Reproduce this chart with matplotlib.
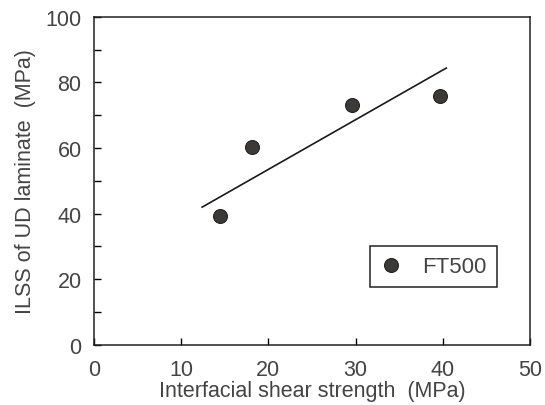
import numpy as np
import matplotlib.pyplot as plt
from matplotlib.ticker import MultipleLocator

# measured points (FT500)
ifss = [14.5, 18.1, 29.6, 39.7]
ilss = [39.4, 60.3, 73.0, 76.0]

# fitted line end points
fit_x = [12.4, 40.4]
fit_y = [42.0, 84.4]

xticks = [0, 10, 20, 30, 40, 50]
yticks = [0, 20, 40, 60, 80, 100]

txt = '#444444'
plt.rcParams['font.family'] = ['Liberation Sans', 'DejaVu Sans']

fig = plt.figure(figsize=(5.45, 4.06), dpi=100)
ax = fig.add_axes([0.1725, 0.148, 0.80, 0.808])

ax.plot(fit_x, fit_y, color='#1a1a1a', lw=1.2)
ax.plot(ifss, ilss, 'o', ms=10, color='#3c3a38', mec='#222222', mew=0.8,
        label='FT500')

ax.set_xlim(0, 50)
ax.set_ylim(0, 100)
ax.set_xticks(xticks)
ax.set_yticks(yticks)
ax.yaxis.set_minor_locator(MultipleLocator(10))
ax.tick_params(which='both', direction='in', length=5, width=1,
               labelsize=15.5, labelcolor=txt, top=False, right=False)
ax.tick_params(axis='x', pad=10)
ax.tick_params(axis='y', pad=9)
for s in ax.spines.values():
    s.set_linewidth(1.1)
    s.set_color('#222222')

ax.set_xlabel('Interfacial shear strength  (MPa)', fontsize=15.5, color=txt,
              labelpad=0)
ax.set_ylabel('ILSS of UD laminate  (MPa)', fontsize=15.5, color=txt,
              labelpad=7)

leg = ax.legend(loc='upper left', bbox_to_anchor=(0.633, 0.30),
                fancybox=False, edgecolor='#222222', fontsize=16,
                handlelength=1.0, handletextpad=0.9, borderpad=0.45,
                borderaxespad=0, framealpha=1)
leg.get_frame().set_linewidth(1.1)
for t in leg.get_texts():
    t.set_color(txt)

fig.savefig('out.png', dpi=100)
